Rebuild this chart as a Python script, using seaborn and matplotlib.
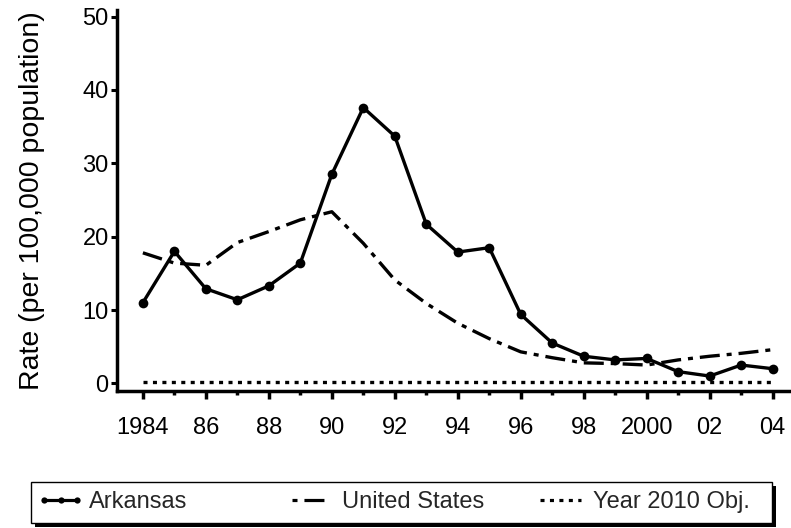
import numpy as np
import pandas as pd
import matplotlib
matplotlib.use("Agg")
import matplotlib.pyplot as plt
from matplotlib.patches import Rectangle
from matplotlib.lines import Line2D
import seaborn as sns

# data
years = list(range(1984, 2005))
arkansas = [11.0, 18.0, 12.9, 11.4, 13.3, 16.4, 28.5, 37.6, 33.7, 21.7, 17.9,
            18.5, 9.4, 5.5, 3.7, 3.2, 3.4, 1.6, 1.0, 2.5, 2.0]
united_states = [17.8, 16.4, 16.1, 19.2, 20.7, 22.3, 23.4, 19.1, 14.1, 10.9, 8.2,
                 6.1, 4.3, 3.5, 2.8, 2.7, 2.5, 3.2, 3.7, 4.1, 4.6]
objective_2010 = [0.2] * len(years)
xtick_years = list(range(1984, 2005, 2))
xtick_labels = ["1984", "86", "88", "90", "92", "94", "96", "98", "2000", "02", "04"]

df = pd.DataFrame({"year": years, "Arkansas": arkansas,
                   "United States": united_states, "Year 2010 Obj.": objective_2010})

sns.set_theme(style="ticks")
plt.rcParams["font.family"] = ["Liberation Sans", "DejaVu Sans"]
plt.rcParams["lines.scale_dashes"] = False

fig = plt.figure(figsize=(7.91, 5.28), dpi=100)
ax = fig.add_axes([0.148, 0.26, 0.8507, 0.721])

dashdot = (0, (14.4, 5.0, 3.6, 5.0))
dots = (0, (2.9, 3.9))

sns.lineplot(data=df, x="year", y="Year 2010 Obj.", ax=ax, color="black",
             lw=2.4, linestyle=dots, dash_capstyle="butt")
sns.lineplot(data=df, x="year", y="United States", ax=ax, color="black",
             lw=2.4, linestyle=dashdot, dash_capstyle="butt")
sns.lineplot(data=df, x="year", y="Arkansas", ax=ax, color="black", lw=2.4,
             marker="o", markersize=7, markeredgewidth=0)

ax.set_xlim(1983.18, 2004.55)
ax.set_ylim(-1.0, 50.9)
ax.set_xticks(xtick_years)
ax.set_xticklabels(xtick_labels)
ax.set_xticks(range(1985, 2004, 2), minor=True)
ax.set_yticks(range(0, 51, 10))
ax.tick_params(axis="x", which="major", length=6, width=2.5, labelsize=17,
               pad=13, color="black", labelcolor="black")
ax.tick_params(axis="x", which="minor", length=3, width=2.5, color="black")
ax.tick_params(axis="y", length=4, width=2.2, labelsize=17, pad=2,
               color="black", labelcolor="black")
ax.set_xlabel("")
ax.set_ylabel("Rate (per 100,000 population)", fontsize=20.5, color="black",
              labelpad=27)
sns.despine(ax=ax)
for side in ["left", "bottom"]:
    ax.spines[side].set_linewidth(2.5)
    ax.spines[side].set_color("black")

# legend box with shadow
fig.patches.append(Rectangle((0.0440, 0.0018), 0.9369, 0.0777, transform=fig.transFigure,
                             facecolor="black", edgecolor="none", zorder=1))
fig.patches.append(Rectangle((0.0395, 0.0095), 0.9369, 0.0777, transform=fig.transFigure,
                             facecolor="white", edgecolor="black", lw=1.0, zorder=2))

entries = [
    (Line2D([], [], color="black", lw=2.3, marker="o", markersize=4.5,
            markeredgewidth=0), "Arkansas", 37, 2.0),
    (Line2D([], [], color="black", lw=2.3, linestyle=(19.4, (14.4, 5.0, 3.6, 5.0)),
            dash_capstyle="butt"), "United States", 285, 2.2),
    (Line2D([], [], color="black", lw=2.3, linestyle=dots,
            dash_capstyle="butt"), "Year 2010 Obj.", 533, 2.35),
]
for handle, label, xpx, hlen in entries:
    leg = fig.legend([handle], [label], loc="center left",
                     bbox_to_anchor=(xpx / 791, 0.0483), frameon=False,
                     fontsize=17, handlelength=hlen, handletextpad=0.2,
                     numpoints=3, borderpad=0, borderaxespad=0)
    leg.set_zorder(3)

fig.savefig("out.png", dpi=100)
